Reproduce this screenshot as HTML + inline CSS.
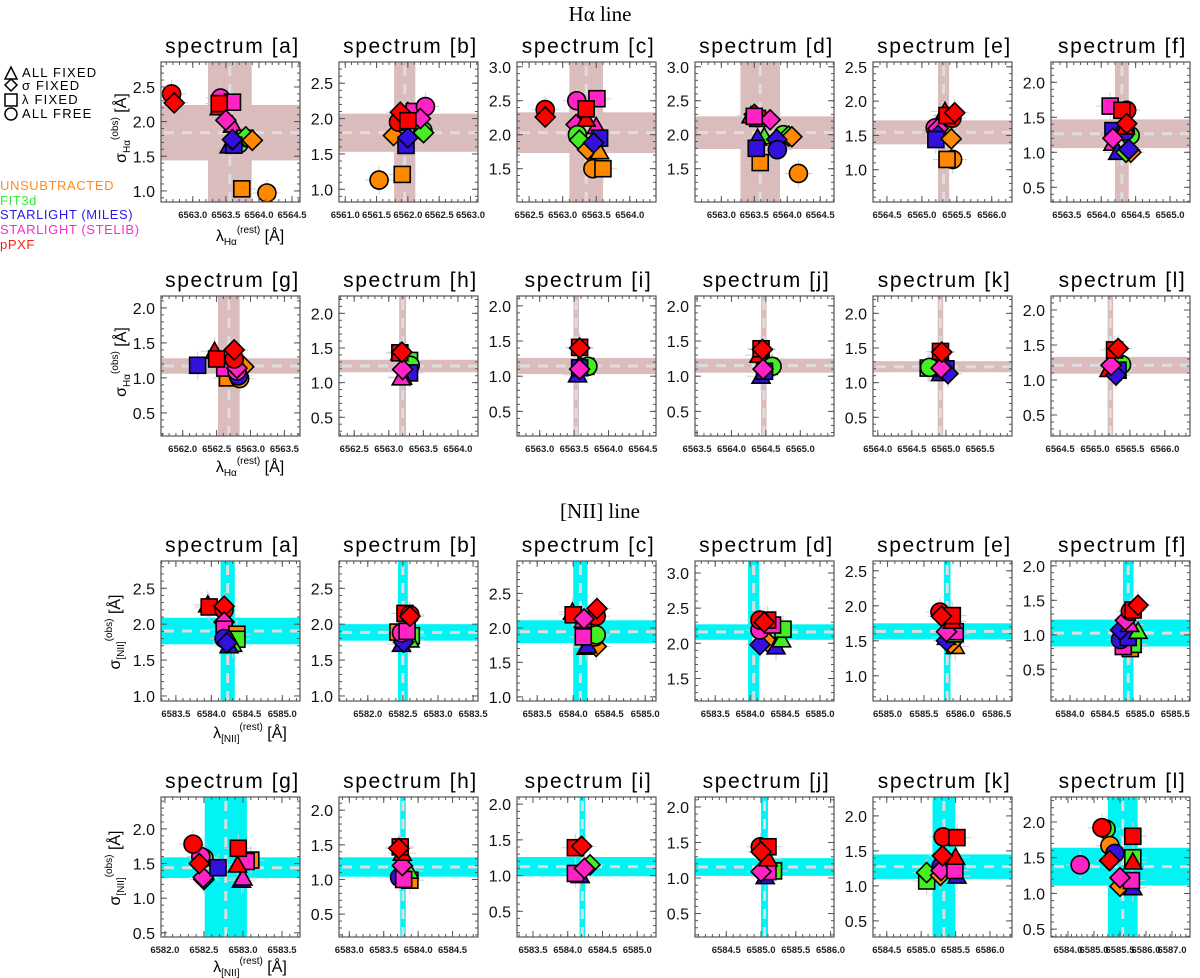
<!DOCTYPE html>
<html><head><meta charset="utf-8"><style>
html,body{margin:0;padding:0;background:#fff;}
svg{display:block;font-family:"Liberation Sans",sans-serif;}
</style></head><body>
<svg id="fig" width="1200" height="978" viewBox="0 0 1200 978" xmlns="http://www.w3.org/2000/svg">
<text x="600" y="21" text-anchor="middle" font-family="Liberation Serif,serif" font-size="21">Hα line</text>
<text x="600" y="518" text-anchor="middle" font-family="Liberation Serif,serif" font-size="21">[NII] line</text>
<g id="legend" font-size="13" letter-spacing="1.2">
<polygon points="5,79 17,79 11,67" fill="none" stroke="#000" stroke-width="1.5"/>
<text x="22" y="77">ALL FIXED</text>
<polygon points="11,79 17,85 11,91 5,85" fill="none" stroke="#000" stroke-width="1.5"/>
<text x="22" y="90">σ FIXED</text>
<rect x="5" y="94" width="12" height="12" fill="none" stroke="#000" stroke-width="1.5"/>
<text x="22" y="104">λ FIXED</text>
<circle cx="11" cy="114" r="6" fill="none" stroke="#000" stroke-width="1.5"/>
<text x="22" y="118">ALL FREE</text>
<g letter-spacing="0.6">
<text x="0" y="190" fill="#ff8c1a">UNSUBTRACTED</text>
<text x="0" y="205" fill="#33ee33">FIT3d</text>
<text x="0" y="219" fill="#2a1ae8">STARLIGHT (MILES)</text>
<text x="0" y="234" fill="#ff2ad0">STARLIGHT (STELIB)</text>
<text x="0" y="249" fill="#ff1a1a">pPXF</text>
</g></g>
</svg>
<script>
// colours: 0 unsubtracted, 1 FIT3d, 2 MILES, 3 STELIB, 4 pPXF ; shapes: 0 tri, 1 diamond, 2 square, 3 circle
const COLORS = ['#ff8800','#44ee22','#3311dd','#ff22c4','#ff0000'];
const PANEL_LETTERS = ['a','b','c','d','e','f','g','h','i','j','k','l'];
// Halpha points [lambda, sigma, colour, shape]
const HA_A=[[6562.68,2.40,4,3],[6562.72,2.27,4,1],[6563.42,2.34,3,3],[6563.60,2.28,3,2],[6563.40,2.20,4,0],[6563.40,2.26,4,2],[6563.60,1.95,3,0],[6563.50,2.02,3,1],[6563.70,1.68,1,3],[6563.79,1.76,1,2],[6563.80,1.78,1,1],[6563.90,1.73,0,1],[6563.55,1.65,2,0],[6563.62,1.66,2,2],[6563.60,1.74,2,1],[6563.74,1.03,0,2],[6564.12,0.97,0,3]];
const HA_B=[[6561.54,1.13,0,3],[6561.91,1.21,0,2],[6561.77,1.76,0,1],[6562.24,1.83,1,3],[6562.25,1.80,1,1],[6561.97,1.62,2,2],[6562.00,1.73,2,1],[6562.00,2.10,4,0],[6562.10,2.10,3,2],[6562.28,2.17,3,3],[6562.20,2.00,3,1],[6561.85,1.95,4,3],[6561.88,2.09,4,1],[6562.00,1.97,4,2]];
const HA_C=[[6562.74,2.37,4,3],[6562.74,2.26,4,1],[6563.21,2.50,3,3],[6563.51,2.53,3,2],[6563.20,2.15,3,1],[6563.50,2.12,3,0],[6563.35,2.23,4,0],[6563.35,2.38,4,2],[6563.22,2.00,1,3],[6563.25,1.92,1,1],[6563.37,1.78,0,1],[6563.55,1.75,0,0],[6563.55,1.95,2,2],[6563.46,1.88,2,1],[6563.45,1.50,0,3],[6563.60,1.50,0,2]];
const HA_D=[[6563.45,2.28,4,0],[6563.50,2.30,4,1],[6563.55,2.25,4,3],[6563.55,2.24,4,2],[6563.74,2.22,3,1],[6563.50,2.27,3,2],[6563.65,1.97,1,0],[6563.94,2.00,1,3],[6564.02,1.98,1,1],[6564.07,1.97,0,1],[6563.59,1.59,0,2],[6564.17,1.43,0,3],[6563.55,1.95,2,0],[6563.84,1.93,2,1],[6563.85,1.78,2,3],[6563.53,1.80,2,2]];
const HA_E=[[6565.33,1.85,4,0],[6565.19,1.61,3,3],[6565.30,1.60,1,3],[6565.23,1.60,3,1],[6565.23,1.50,2,1],[6565.20,1.44,2,2],[6565.42,1.45,0,1],[6565.44,1.15,0,3],[6565.36,1.15,0,2],[6565.43,1.75,4,3],[6565.36,1.79,4,2],[6565.47,1.83,4,1]];
const HA_F=[[6564.13,1.66,3,2],[6564.37,1.60,4,3],[6564.30,1.60,4,2],[6564.42,1.24,1,3],[6564.17,1.31,2,2],[6564.35,1.30,2,3],[6564.35,1.36,4,0],[6564.37,1.41,4,1],[6564.17,1.13,3,0],[6564.17,1.20,3,1],[6564.24,1.00,2,0],[6564.43,1.00,0,1],[6564.36,1.00,1,1],[6564.40,1.04,2,1]];
const HA_G=[[6562.22,1.18,2,2],[6562.47,1.38,4,0],[6562.66,1.00,0,2],[6562.84,0.99,0,3],[6562.90,1.16,0,1],[6562.76,1.18,1,3],[6562.82,1.03,2,3],[6562.62,1.14,3,2],[6562.80,1.10,3,3],[6562.80,1.14,3,1],[6562.50,1.27,4,2],[6562.76,1.27,4,3],[6562.76,1.40,4,1]];
const HA_H=[[6563.16,1.43,4,0],[6563.30,1.32,1,2],[6563.31,1.25,1,3],[6563.30,1.14,2,2],[6563.20,1.08,2,0],[6563.18,1.07,3,0],[6563.20,1.19,3,1],[6563.16,1.43,4,2],[6563.19,1.44,4,1]];
const HA_I=[[6563.55,1.02,2,0],[6563.67,1.14,1,2],[6563.70,1.14,1,3],[6563.58,1.12,2,2],[6563.58,1.10,3,1],[6563.58,1.41,4,2],[6563.58,1.40,4,1]];
const HA_J=[[6564.43,1.00,2,0],[6564.40,1.30,4,0],[6564.55,1.14,1,2],[6564.59,1.14,1,3],[6564.48,1.07,2,2],[6564.46,1.10,3,1],[6564.43,1.39,4,2],[6564.45,1.38,4,1]];
const HA_K=[[6564.92,1.13,2,0],[6564.74,1.21,1,2],[6564.76,1.22,1,3],[6565.00,1.20,2,2],[6565.03,1.13,2,1],[6564.93,1.21,3,1],[6564.92,1.45,4,2],[6564.94,1.44,4,1]];
const HA_L=[[6565.20,1.15,4,0],[6565.38,1.22,1,3],[6565.33,1.14,2,2],[6565.30,1.07,2,1],[6565.23,1.21,3,1],[6565.28,1.43,4,2],[6565.33,1.45,4,1]];
// [NII] points [lambda, sigma, colour, shape]
const NII_A=[[6583.95,2.27,4,0],[6583.97,2.24,4,2],[6584.18,2.20,4,3],[6584.18,2.25,4,1],[6584.18,2.03,3,1],[6584.18,1.93,3,2],[6584.36,1.86,0,2],[6584.36,1.79,1,2],[6584.30,1.72,1,0],[6584.18,1.80,2,3],[6584.25,1.70,2,0],[6584.22,1.74,2,1]];
const NII_B=[[6582.43,1.89,0,2],[6582.62,1.84,1,2],[6582.60,1.78,1,0],[6582.48,1.72,2,0],[6582.51,1.75,2,1],[6582.48,1.88,3,3],[6582.56,1.90,3,2],[6582.53,2.15,4,2],[6582.60,2.13,4,3],[6582.60,2.11,4,1]];
const NII_C=[[6583.99,2.23,4,0],[6584.00,2.19,4,2],[6584.32,2.17,4,3],[6584.33,2.28,4,1],[6584.14,2.11,3,0],[6584.15,2.13,3,1],[6584.18,1.72,0,0],[6584.32,1.73,0,1],[6584.20,1.74,2,0],[6584.30,1.87,0,3],[6584.32,1.90,1,3],[6584.14,1.87,3,2]];
const NII_D=[[6584.25,2.02,0,1],[6584.37,1.95,2,0],[6584.45,2.05,1,0],[6584.14,1.98,2,1],[6584.47,2.20,1,2],[6584.14,2.19,3,3],[6584.32,2.26,3,2],[6584.25,2.33,4,2],[6584.14,2.33,4,3],[6584.20,2.30,4,1]];
const NII_E=[[6585.93,1.42,0,0],[6585.87,1.46,0,1],[6585.81,1.55,2,0],[6585.81,1.50,2,1],[6585.93,1.60,0,2],[6585.92,1.60,1,2],[6585.93,1.63,3,2],[6585.81,1.63,3,1],[6585.89,1.78,4,0],[6585.72,1.91,4,3],[6585.89,1.86,4,2],[6585.74,1.85,4,1]];
const NII_F=[[6584.86,0.80,0,2],[6584.90,0.86,1,2],[6584.76,0.83,3,2],[6584.72,0.93,2,3],[6584.83,0.96,2,2],[6584.72,1.07,2,1],[6584.97,1.05,1,0],[6584.85,1.15,3,0],[6584.79,1.21,3,1],[6584.86,1.34,4,3],[6584.90,1.36,4,2],[6584.97,1.43,4,1]];
const NII_G=[[6582.98,1.26,2,0],[6583.00,1.29,3,0],[6582.50,1.27,2,1],[6582.49,1.30,3,1],[6582.50,1.58,1,3],[6582.46,1.60,3,3],[6582.68,1.44,2,2],[6582.44,1.50,4,1],[6582.36,1.78,4,3],[6583.10,1.55,0,2],[6583.04,1.53,3,2],[6582.93,1.48,4,0],[6582.94,1.72,4,2]];
const NII_H=[[6583.88,0.99,0,2],[6583.73,1.03,2,3],[6583.87,1.12,1,0],[6583.79,1.00,3,2],[6583.77,1.20,3,1],[6583.77,1.38,4,0],[6583.74,1.47,4,2],[6583.72,1.45,4,1]];
const NII_I=[[6584.18,1.00,2,0],[6584.32,1.15,1,1],[6584.11,1.03,3,2],[6584.24,1.10,3,1],[6584.11,1.39,4,2],[6584.20,1.41,4,1]];
const NII_J=[[6585.06,1.02,2,0],[6585.18,1.10,1,2],[6585.10,1.09,3,2],[6585.00,1.09,3,1],[6585.10,1.27,4,0],[6584.99,1.44,4,3],[6585.10,1.44,4,2],[6585.00,1.37,4,1]];
const NII_K=[[6585.08,1.07,1,2],[6585.08,1.19,1,1],[6585.28,1.15,0,1],[6585.52,1.14,2,0],[6585.29,1.28,2,3],[6585.29,1.22,3,1],[6585.49,1.22,3,2],[6585.50,1.41,4,0],[6585.31,1.43,4,1],[6585.32,1.70,4,3],[6585.52,1.69,4,2]];
const NII_L=[[6585.50,1.10,0,1],[6585.87,1.08,2,0],[6585.87,1.50,1,2],[6585.87,1.44,4,0],[6585.83,1.18,3,2],[6585.50,1.22,3,1],[6584.35,1.40,3,3],[6585.10,1.90,1,3],[6584.98,1.92,4,3],[6585.21,1.67,0,3],[6585.35,1.56,2,3],[6585.20,1.46,4,1],[6585.87,1.80,4,2]];
const HA_DATA=[HA_A,HA_B,HA_C,HA_D,HA_E,HA_F,HA_G,HA_H,HA_I,HA_J,HA_K,HA_L];
const NII_DATA=[NII_A,NII_B,NII_C,NII_D,NII_E,NII_F,NII_G,NII_H,NII_I,NII_J,NII_K,NII_L];
// reference bands: [lambda centre, lambda half-width, sigma centre, sigma half-width]
const HA_BANDS=[[6563.56,0.33,1.84,0.40],[6561.95,0.17,1.80,0.27],[6563.35,0.25,2.03,0.30],[6563.59,0.30,2.03,0.24],[6565.31,0.08,1.545,0.175],[6564.30,0.10,1.265,0.205],[6562.68,0.16,1.17,0.11],[6563.20,0.05,1.24,0.09],[6563.53,0.04,1.145,0.115],[6564.47,0.04,1.15,0.10],[6564.92,0.04,1.23,0.08],[6565.22,0.04,1.21,0.12]];
const NII_BANDS=[[6584.23,0.10,1.905,0.185],[6582.50,0.07,1.885,0.115],[6584.10,0.10,1.945,0.165],[6584.05,0.08,2.16,0.11],[6585.82,0.045,1.635,0.115],[6584.83,0.075,1.025,0.195],[6582.78,0.27,1.44,0.15],[6583.78,0.04,1.18,0.14],[6584.21,0.04,1.125,0.135],[6585.05,0.05,1.155,0.125],[6585.33,0.165,1.275,0.175],[6585.58,0.43,1.375,0.265]];
// axis ranges [xmin,xmax,ymin,ymax] and first x tick / first y tick
const HA_RANGES=[[6562.52,6564.62,0.84,2.86],[6560.9,6563.12,0.82,2.8],[6562.32,6564.39,1.01,3.07],[6562.6,6564.71,1.01,3.07],[6564.3,6566.29,0.53,2.57],[6563.27,6565.29,0.29,2.29],[6561.68,6563.73,0.17,2.17],[6562.28,6564.29,0.23,2.25],[6562.67,6564.69,0.15,2.14],[6563.47,6565.49,0.15,2.14],[6563.93,6565.97,0.23,2.25],[6564.37,6566.36,0.2,2.2]];
const NII_RANGES=[[6583.29,6585.25,0.93,2.88],[6581.59,6583.57,0.93,2.88],[6583.22,6585.15,0.94,2.97],[6583.21,6585.2,1.18,3.17],[6584.8,6586.71,0.64,2.64],[6583.73,6585.71,0.04,2.07],[6581.95,6583.73,0.44,2.46],[6582.85,6584.87,0.17,2.19],[6583.27,6585.27,0.14,2.1],[6584.05,6586.05,0.17,2.14],[6584.3,6586.32,0.27,2.27],[6583.51,6587.52,0.39,2.35]];
const HA_XT0=[6563.0,6561.0,6562.5,6563.0,6564.5,6563.5,6562.0,6562.5,6563.0,6563.5,6564.0,6564.5];
const NII_XT0=[6583.5,6582.0,6583.5,6583.5,6585.0,6584.0,6582.0,6583.0,6583.5,6584.5,6584.5,6584.0];
const HA_YT0=[1.0,1.0,1.5,1.5,1.0,0.5,0.5,0.5,0.5,0.5,0.5,0.5];
const NII_YT0=[1.0,1.0,1.0,1.5,1.0,0.5,0.5,0.5,0.5,0.5,0.5,0.5];
const NII_L_XLABELS=['6584.0','6585.0','6585.5','6586.0','6587.0'];

const NS='http://www.w3.org/2000/svg';
const svg=document.getElementById('fig');
function mk(tag,attrs,parent){const e=document.createElementNS(NS,tag);for(const k in attrs)e.setAttribute(k,attrs[k]);parent.appendChild(e);return e;}
const COLX=[161,339,517,695,873,1051];
const ROWY=[62,296,561,797];
const W=139,H=140;
let clipId=0;

function marker(g,px,py,c,s){
  const fill=COLORS[c];let el;
  const st={fill:fill,stroke:'#000','stroke-width':1.6};
  if(s===0){el=mk('polygon',Object.assign({points:`${px-9},${py+7} ${px+9},${py+7} ${px},${py-9}`},st),g);}
  else if(s===1){el=mk('polygon',Object.assign({points:`${px},${py-10} ${px+10},${py} ${px},${py+10} ${px-10},${py}`},st),g);}
  else if(s===2){el=mk('rect',Object.assign({x:px-8,y:py-8,width:16,height:16},st),g);}
  else {el=mk('circle',Object.assign({cx:px,cy:py,r:9},st),g);}
  
  
}

function panel(idx,isNii,row,col){
  const i=idx;
  const R=isNii?NII_RANGES[i]:HA_RANGES[i];
  const B=isNii?NII_BANDS[i]:HA_BANDS[i];
  const P=isNii?NII_DATA[i]:HA_DATA[i];
  const xt0=isNii?NII_XT0[i]:HA_XT0[i];
  const yt0=isNii?NII_YT0[i]:HA_YT0[i];
  const L=COLX[col],T=ROWY[row];
  const sx=v=>L+(v-R[0])/(R[1]-R[0])*W;
  const sy=v=>T+H-(v-R[2])/(R[3]-R[2])*H;
  const g=mk('g',{},svg);
  
  
  const t=mk('text',{x:L+W/2+2,y:T-9,'text-anchor':'middle','font-size':21,'letter-spacing':1.6},g);
  t.textContent='spectrum ['+PANEL_LETTERS[i]+']';
  
  
  const cid='c'+(clipId++);
  const cp=mk('clipPath',{id:cid},g);mk('rect',{x:L,y:T,width:W,height:H},cp);
  const inner=mk('g',{'clip-path':`url(#${cid})`},g);
  const bc=isNii?'#00f4f4':'#dbbcbd';
  const hb=mk('rect',{x:L,y:sy(B[2]+B[3]),width:W,height:sy(B[2]-B[3])-sy(B[2]+B[3]),fill:bc},inner);
  
  
  const vb=mk('rect',{x:sx(B[0]-B[1]),y:T,width:sx(B[0]+B[1])-sx(B[0]-B[1]),height:H,fill:bc},inner);
  
  
  const dh=mk('line',{x1:L+3,x2:L+W,y1:sy(B[2]),y2:sy(B[2]),stroke:'#dddddd','stroke-width':3,'stroke-dasharray':'10,8'},inner);
  
  
  const dv=mk('line',{x1:sx(B[0]),x2:sx(B[0]),y1:T+4,y2:T+H,stroke:'#dddddd','stroke-width':3,'stroke-dasharray':'10,8'},inner);
  
  
  P.forEach(p=>{
    const px=sx(p[0]),py=sy(p[1]);
    const e1=mk('line',{x1:px-14,x2:px+14,y1:py,y2:py,stroke:'#cfcfcf','stroke-width':1},inner);
    
    
    const e2=mk('line',{x1:px,x2:px,y1:py-14,y2:py+14,stroke:'#cfcfcf','stroke-width':1},inner);
    
    
  });
  P.forEach(p=>marker(inner,sx(p[0]),sy(p[1]),p[2],p[3]));
  const fr=mk('rect',{x:L,y:T,width:W,height:H,fill:'none',stroke:'#555','stroke-width':1.2},g);
  
  
  const tk=mk('g',{stroke:'#555','stroke-width':1},g);
  // x ticks
  const special=isNii&&i===11;
  const xstep=special?0.75:0.5;
  for(let k=0;k<5;k++){
    const v=xt0+k*xstep; if(v>R[1]) break;
    const X=sx(v);
    mk('line',{x1:X,x2:X,y1:T+H,y2:T+H-6},tk);mk('line',{x1:X,x2:X,y1:T,y2:T+6},tk);
    const lb=mk('text',{x:X,y:T+H+16,'text-anchor':'middle','font-size':9.5,'font-weight':'bold',fill:'#222'},g);
    lb.textContent=special?NII_L_XLABELS[k]:v.toFixed(1);
    
    
  }
  const mstep=special?0.15:0.1;
  for(let v=Math.ceil(R[0]/mstep)*mstep;v<=R[1];v+=mstep){const X=sx(v);mk('line',{x1:X,x2:X,y1:T+H,y2:T+H-3},tk);mk('line',{x1:X,x2:X,y1:T,y2:T+3},tk);}
  for(let v=yt0;v<=R[3]+1e-6;v+=0.5){
    const Y=sy(v);
    mk('line',{x1:L,x2:L+6,y1:Y,y2:Y},tk);mk('line',{x1:L+W,x2:L+W-6,y1:Y,y2:Y},tk);
    const lb=mk('text',{x:L-6,y:Y+6,'text-anchor':'end','font-size':16,fill:'#111'},g);
    lb.textContent=v.toFixed(1);
    
    
  }
  for(let v=Math.ceil(R[2]*10)/10;v<=R[3];v+=0.1){const Y=sy(v);mk('line',{x1:L,x2:L+3,y1:Y,y2:Y},tk);mk('line',{x1:L+W,x2:L+W-3,y1:Y,y2:Y},tk);}
}
for(let i=0;i<12;i++){panel(i,false,i<6?0:1,i%6);panel(i,true,i<6?2:3,i%6);}

function axisLabels(sub,yc,xlY,name){
  const yl=mk('text',{transform:`translate(${sub==='Hα'?126:120},${yc}) rotate(-90)`,'text-anchor':'middle','font-size':16},svg);
  yl.innerHTML=`σ<tspan font-size="10" dy="4">${sub}</tspan><tspan font-size="10" dy="-12">(obs)</tspan><tspan dy="8"> [Å]</tspan>`;
  
  
  const xl=mk('text',{x:250,y:xlY,'text-anchor':'middle','font-size':16},svg);
  xl.innerHTML=`λ<tspan font-size="10" dy="4">${sub}</tspan><tspan font-size="10" dy="-12">(rest)</tspan><tspan dy="8"> [Å]</tspan>`;
  
  
}
axisLabels('Hα',128,241,'halpha-row1');
axisLabels('Hα',362,472,'halpha-row2');
axisLabels('[NII]',632,738,'nii-row1');
axisLabels('[NII]',868,972,'nii-row2');
</script>
</body></html>
